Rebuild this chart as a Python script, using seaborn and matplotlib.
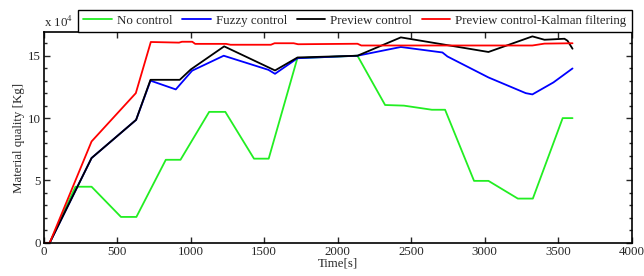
import pandas as pd
import seaborn as sns
import matplotlib.pyplot as plt
from matplotlib.ticker import MultipleLocator

# valori (y in unita di 1e4 kg)
t_no = [0, 40, 215, 325, 525, 630, 830, 930, 1125, 1235, 1430, 1530, 1725, 2134, 2322, 2450, 2640, 2730, 2927, 3025, 3225, 3327, 3530, 3597]
q_no = [0, 0, 4.5, 4.5, 2.08, 2.08, 6.66, 6.66, 10.5, 10.5, 6.75, 6.75, 14.8, 15.0, 11.05, 11.0, 10.67, 10.67, 4.97, 4.97, 3.55, 3.55, 10.0, 10.0]

t_fuzzy = [0, 40, 325, 628, 726, 898, 1009, 1224, 1528, 1573, 1726, 2134, 2429, 2712, 2746, 3025, 3279, 3324, 3467, 3597]
q_fuzzy = [0, 0, 6.8, 9.86, 13.0, 12.3, 13.8, 15.0, 13.87, 13.55, 14.8, 15.0, 15.7, 15.26, 14.94, 13.26, 12.0, 11.9, 12.86, 13.98]

t_prev = [0, 40, 325, 628, 726, 925, 1000, 1227, 1573, 1726, 2134, 2429, 3025, 3324, 3406, 3542, 3563, 3597]
q_prev = [0, 0, 6.8, 9.86, 13.07, 13.07, 13.9, 15.75, 13.82, 14.86, 15.0, 16.47, 15.3, 16.55, 16.28, 16.36, 16.2, 15.56]

t_kal = [0, 40, 325, 626, 728, 920, 940, 1010, 1030, 1240, 1270, 1545, 1570, 1700, 1730, 2134, 2160, 3324, 3406, 3597]
q_kal = [0, 0, 8.13, 12.0, 16.1, 16.05, 16.12, 16.12, 15.95, 15.95, 15.88, 15.88, 16.0, 16.0, 15.92, 15.96, 15.82, 15.82, 15.97, 16.0]

labels = ["No control", "Fuzzy control", "Preview control", "Preview control-Kalman filtering"]
colors = ["#22ee22", "#0000ff", "#000000", "#ff0000"]

frames = []
for lab, t, q in zip(labels, [t_no, t_fuzzy, t_prev, t_kal], [q_no, q_fuzzy, q_prev, q_kal]):
    frames.append(pd.DataFrame({"Time": t, "Quality": q, "serie": lab}))
df = pd.concat(frames, ignore_index=True)

sns.set_style("ticks")
plt.rcParams['font.family'] = ['Liberation Serif', 'DejaVu Serif']
plt.rcParams['mathtext.fontset'] = 'stix'

fig = plt.figure(figsize=(6.44, 2.76), dpi=100)
ax = fig.add_axes([0.068, 0.12, 0.913, 0.764])

sns.lineplot(data=df, x="Time", y="Quality", hue="serie", hue_order=labels,
             palette=dict(zip(labels, colors)), estimator=None, sort=False,
             linewidth=1.3, ax=ax)

ax.set_xlim(0, 4000)
ax.set_ylim(0, 16.9)
ax.xaxis.set_major_locator(MultipleLocator(500))
ax.yaxis.set_major_locator(MultipleLocator(5))
ax.yaxis.set_minor_locator(MultipleLocator(1))
ax.tick_params(which="both", direction="in", top=True, right=True, labelsize=9.3,
               width=1, pad=2)
ax.tick_params(which="major", length=4)
ax.tick_params(which="minor", length=2.5)
for s in ax.spines.values():
    s.set_linewidth(1.2)
    s.set_color("black")

ax.set_xlabel("Time[s]", fontsize=9.3, labelpad=0)
ax.set_ylabel("Material quality [Kg]", fontsize=9.3, labelpad=2)
ax.text(0.0, 1.01, r"x 10$^{4}$", transform=ax.transAxes, fontsize=9.3, va="bottom")

leg = ax.legend(loc="lower right", bbox_to_anchor=(1.0, 1.0), ncol=4, fontsize=9.3,
                frameon=True, fancybox=False, edgecolor="black", framealpha=1,
                borderaxespad=0, handlelength=2.2, columnspacing=0.75,
                handletextpad=0.4, borderpad=0.4)
leg.get_frame().set_linewidth(1.0)

plt.savefig("out.png", dpi=100)
